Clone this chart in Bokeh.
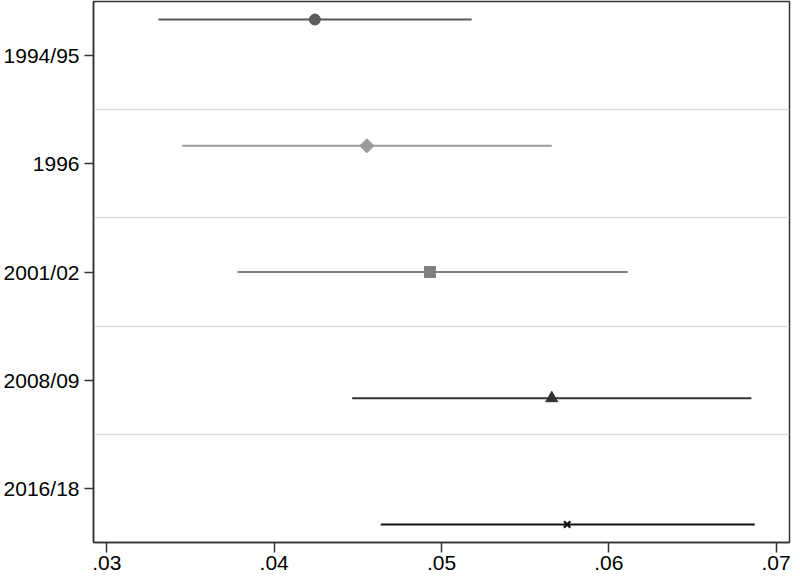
import math
from bokeh.plotting import figure
from bokeh.models import Range1d, FixedTicker, CustomJSTickFormatter
from bokeh.embed import file_html
from bokeh.resources import INLINE

categories = ["1994/95", "1996", "2001/02", "2008/09", "2016/18"]
estimates = [0.04243, 0.04554, 0.04931, 0.05659, 0.05751]
ci_low = [0.03308, 0.03450, 0.03781, 0.04466, 0.04637]
ci_high = [0.05180, 0.05659, 0.06113, 0.06852, 0.06872]
xticks = [0.03, 0.04, 0.05, 0.06, 0.07]

colors = ["#5a5a5a", "#9a9a9a", "#808080", "#333333", "#111111"]
markers = ["circle", "square", "square", "triangle", "x"]
angles = [0, math.pi / 4, 0, 0, 0]
sizes = [11, 10, 11, 12, 9]

n = len(categories)
pos = list(range(1, n + 1))
offsets = [(i - (n - 1) / 2) / 6 for i in range(n)]
ypos = [p + o for p, o in zip(pos, offsets)]

p = figure(width=792, height=572, output_backend="svg", toolbar_location=None,
           x_range=Range1d(0.0292, 0.0708), y_range=Range1d(n + 0.5, 0.5),
           min_border_left=0, min_border_right=3, min_border_top=1, min_border_bottom=0)

FONT = "Liberation Sans"

for i in range(n):
    p.segment(x0=[ci_low[i]], y0=[ypos[i]], x1=[ci_high[i]], y1=[ypos[i]],
              line_color=colors[i], line_width=2)
    if markers[i] == "x":
        p.scatter(x=[estimates[i]], y=[ypos[i]], marker="x", size=sizes[i],
                  line_color=colors[i], line_width=2.2)
    else:
        p.scatter(x=[estimates[i]], y=[ypos[i]], marker=markers[i], size=sizes[i],
                  angle=angles[i],
                  fill_color=colors[i], line_color=colors[i], line_width=1)

# axes
p.xaxis.ticker = FixedTicker(ticks=xticks)
p.xaxis.formatter = CustomJSTickFormatter(code="return tick.toFixed(2).replace(/^0/, '');")
p.yaxis.ticker = FixedTicker(ticks=pos)
p.yaxis.major_label_overrides = {pp: c for pp, c in zip(pos, categories)}

for ax in (p.xaxis[0], p.yaxis[0]):
    ax.major_label_text_font = FONT
    ax.major_label_text_font_size = "21px"
    ax.major_label_text_color = "#000000"
    ax.minor_tick_line_color = None
    ax.major_tick_in = 0
    ax.axis_line_color = "#333333"
    ax.axis_line_width = 1.5
    ax.major_tick_line_color = "#333333"
    ax.major_tick_line_width = 1.5

p.xaxis.major_tick_out = 10
p.xaxis.major_label_standoff = 3
p.yaxis.major_tick_out = 9
p.yaxis.major_label_standoff = 5

# grids: horizontal separators between categories only
p.xgrid.grid_line_color = None
p.ygrid.ticker = FixedTicker(ticks=[k + 0.5 for k in range(1, n)])
p.ygrid.grid_line_color = "#dcdcdc"
p.ygrid.grid_line_width = 1.5

p.outline_line_color = "#333333"
p.outline_line_width = 1.5
p.background_fill_color = "white"
p.border_fill_color = "white"

open("out.html", "w").write(file_html(p, INLINE))
